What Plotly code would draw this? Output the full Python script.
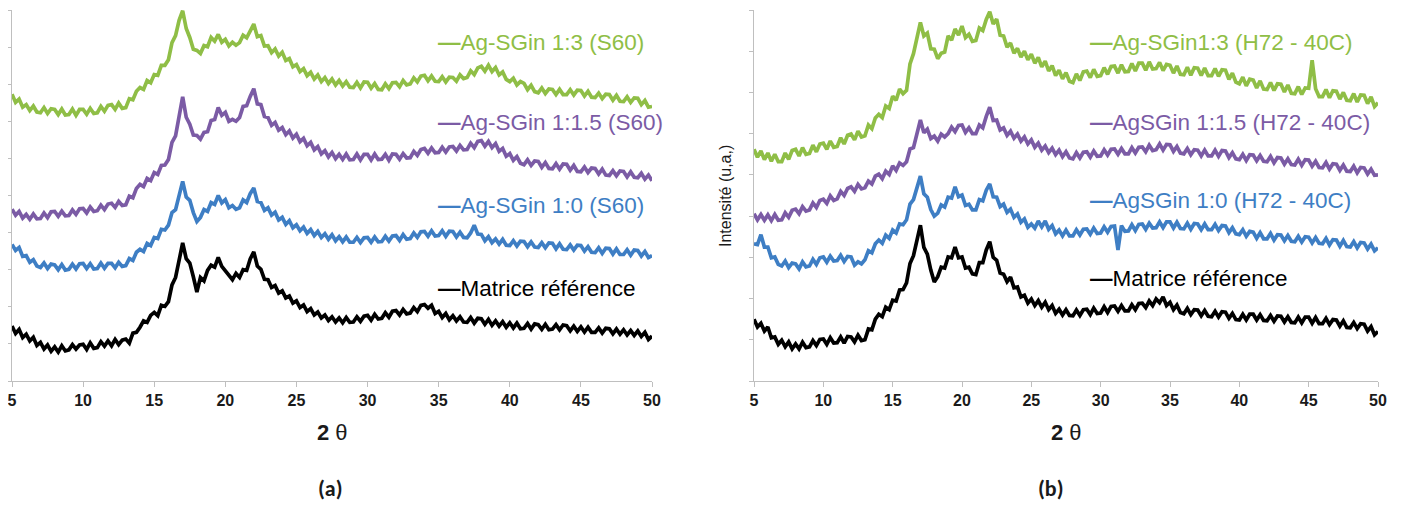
import plotly.graph_objects as go

# 2-theta sampling grid (degrees)
two_theta = [5 + 0.25 * i for i in range(181)]
x_ticks = [5, 10, 15, 20, 25, 30, 35, 40, 45, 50]
x_tick_labels = ["5", "10", "15", "20", "25", "30", "35", "40", "45", "50"]

# ---------------- Panel (a) : S60 (intensity, u.a.) ----------------
a_matrice = [
    148, 128, 139, 117, 126, 108, 118, 96, 104, 86, 97, 80, 92, 78, 95, 81,
    84, 98, 86, 97, 99, 85, 103, 88, 90, 106, 94, 108, 95, 112, 98, 110,
    113, 102, 129, 131, 145, 162, 158, 177, 185, 176, 204, 201, 214, 259, 279, 330,
    372, 330, 318, 281, 240, 279, 270, 298, 312, 307, 333, 309, 298, 286, 273, 290,
    279, 300, 298, 329, 348, 310, 301, 274, 273, 252, 257, 237, 243, 224, 229, 210,
    216, 198, 205, 187, 195, 178, 186, 170, 178, 163, 173, 159, 170, 157, 171, 158,
    159, 173, 161, 175, 177, 164, 180, 167, 169, 184, 172, 188, 190, 178, 193, 181,
    183, 198, 187, 204, 206, 196, 204, 182, 188, 171, 182, 165, 176, 162, 173, 159,
    158, 171, 156, 169, 168, 153, 166, 150, 162, 148, 160, 145, 157, 143, 156, 141,
    142, 155, 140, 154, 152, 139, 153, 138, 140, 152, 138, 151, 149, 135, 148, 134,
    146, 132, 145, 131, 131, 143, 129, 142, 141, 127, 140, 126, 138, 124, 136, 123,
    135, 120, 131, 112, 121]
a_ag_1_0 = [
    368, 352, 360, 336, 338, 320, 327, 310, 306, 318, 303, 315, 313, 300, 314, 299,
    301, 315, 302, 316, 317, 303, 316, 302, 303, 318, 304, 317, 317, 305, 320, 309,
    311, 330, 325, 347, 355, 349, 371, 365, 387, 384, 409, 407, 420, 454, 462, 504,
    538, 496, 487, 454, 430, 441, 462, 457, 481, 476, 500, 480, 489, 467, 473, 463,
    467, 488, 481, 505, 520, 484, 481, 460, 467, 447, 455, 434, 441, 422, 432, 413,
    421, 405, 415, 398, 408, 392, 403, 387, 397, 382, 394, 378, 389, 375, 388, 374,
    374, 387, 373, 386, 387, 374, 388, 375, 376, 390, 377, 391, 392, 379, 395, 382,
    384, 399, 387, 402, 403, 390, 405, 391, 392, 405, 390, 404, 403, 388, 401, 387,
    386, 399, 420, 396, 395, 378, 389, 373, 383, 369, 382, 366, 365, 378, 364, 377,
    376, 362, 375, 361, 360, 373, 359, 372, 371, 356, 370, 355, 354, 367, 353, 366,
    365, 350, 362, 347, 346, 359, 344, 358, 357, 342, 356, 341, 341, 354, 339, 353,
    352, 337, 349, 333, 338]
a_ag_1_1_5 = [
    463, 447, 457, 439, 449, 436, 450, 437, 438, 453, 440, 456, 457, 444, 458, 445,
    446, 461, 449, 464, 465, 453, 469, 457, 459, 474, 462, 477, 479, 468, 484, 473,
    475, 498, 494, 519, 530, 524, 546, 540, 562, 557, 581, 582, 597, 643, 661, 717,
    766, 711, 692, 663, 662, 652, 670, 672, 702, 705, 737, 716, 724, 700, 705, 700,
    710, 740, 742, 767, 788, 747, 745, 713, 710, 689, 697, 676, 683, 664, 674, 655,
    665, 645, 654, 634, 643, 623, 632, 612, 621, 604, 616, 599, 611, 597, 612, 596,
    597, 612, 596, 611, 611, 596, 612, 597, 598, 611, 595, 612, 611, 598, 613, 601,
    602, 619, 608, 624, 627, 614, 628, 615, 616, 630, 617, 631, 632, 620, 635, 623,
    624, 641, 629, 646, 648, 633, 646, 629, 640, 619, 627, 606, 613, 595, 605, 587,
    583, 596, 581, 593, 592, 576, 589, 573, 572, 586, 571, 585, 584, 568, 581, 565,
    564, 577, 562, 574, 573, 558, 571, 555, 554, 567, 553, 566, 565, 550, 564, 549,
    548, 560, 544, 555, 540]
a_ag_1_3 = [
    773, 751, 760, 738, 745, 729, 741, 725, 723, 737, 721, 734, 732, 718, 733, 717,
    718, 733, 716, 732, 732, 719, 735, 721, 723, 740, 727, 743, 745, 732, 749, 735,
    737, 761, 758, 781, 791, 786, 810, 804, 826, 824, 851, 851, 866, 912, 931, 972,
    998, 950, 926, 894, 891, 883, 904, 901, 926, 916, 934, 913, 921, 903, 913, 905,
    912, 932, 925, 946, 962, 928, 931, 903, 904, 885, 895, 876, 886, 864, 869, 847,
    853, 834, 842, 823, 832, 814, 825, 807, 818, 802, 814, 798, 810, 795, 807, 792,
    791, 805, 790, 806, 805, 789, 802, 786, 785, 801, 788, 804, 805, 793, 810, 798,
    801, 817, 806, 822, 824, 809, 822, 808, 807, 820, 806, 819, 818, 808, 825, 815,
    818, 836, 826, 844, 848, 835, 851, 834, 845, 825, 833, 813, 807, 816, 798, 807,
    802, 785, 797, 780, 777, 790, 775, 787, 786, 772, 786, 772, 772, 785, 771, 784,
    783, 768, 781, 765, 764, 776, 761, 773, 772, 757, 770, 754, 753, 766, 751, 763,
    762, 745, 756, 738, 740]

# ---------------- Panel (b) : H72 - 40C (intensity, u.a.) ----------------
b_matrice = [
    150, 131, 140, 121, 131, 105, 107, 89, 99, 83, 95, 78, 90, 78, 94, 81,
    83, 98, 86, 101, 102, 89, 105, 92, 93, 107, 92, 108, 107, 95, 111, 98,
    100, 126, 124, 150, 162, 156, 179, 173, 196, 194, 221, 222, 238, 285, 304, 344,
    378, 324, 308, 269, 240, 253, 276, 274, 301, 299, 325, 299, 301, 274, 276, 260,
    258, 287, 287, 318, 338, 300, 293, 262, 259, 241, 252, 226, 228, 204, 208, 189,
    199, 183, 195, 179, 191, 173, 183, 164, 174, 160, 173, 159, 158, 172, 159, 173,
    174, 161, 177, 164, 165, 180, 166, 181, 182, 169, 183, 170, 170, 185, 173, 188,
    189, 178, 194, 183, 199, 190, 204, 183, 191, 173, 184, 166, 163, 176, 161, 173,
    172, 158, 171, 157, 156, 169, 155, 168, 167, 152, 164, 149, 148, 162, 148, 162,
    162, 148, 161, 147, 146, 159, 145, 158, 157, 143, 156, 142, 141, 155, 141, 155,
    155, 140, 154, 139, 139, 152, 137, 149, 148, 133, 146, 130, 129, 142, 127, 139,
    138, 121, 132, 112, 120]
b_ag_1_0 = [
    333, 331, 355, 325, 325, 299, 301, 283, 279, 291, 275, 286, 284, 272, 289, 277,
    279, 295, 283, 299, 301, 288, 303, 291, 292, 305, 290, 302, 301, 281, 289, 284,
    294, 316, 311, 333, 342, 334, 354, 346, 366, 359, 381, 379, 391, 429, 440, 472,
    497, 454, 446, 416, 400, 407, 427, 422, 446, 444, 471, 447, 451, 426, 429, 415,
    415, 440, 437, 463, 478, 447, 446, 423, 429, 409, 417, 397, 405, 385, 393, 373,
    381, 371, 388, 374, 388, 368, 377, 357, 366, 352, 366, 352, 352, 367, 354, 368,
    369, 356, 371, 358, 359, 374, 361, 375, 376, 318, 377, 363, 364, 379, 365, 380,
    381, 368, 383, 371, 372, 386, 372, 386, 386, 371, 385, 370, 369, 383, 368, 382,
    381, 367, 381, 367, 367, 380, 365, 377, 376, 360, 372, 357, 355, 367, 351, 363,
    361, 346, 360, 345, 345, 358, 342, 355, 354, 340, 353, 339, 338, 351, 337, 350,
    349, 335, 348, 334, 333, 346, 330, 343, 342, 327, 341, 326, 325, 338, 323, 336,
    335, 320, 332, 316, 323]
b_ag_1_1_5 = [
    406, 391, 404, 390, 403, 389, 404, 390, 391, 408, 397, 414, 417, 406, 423, 412,
    415, 432, 421, 438, 441, 431, 449, 438, 442, 460, 450, 467, 471, 460, 477, 466,
    469, 485, 478, 497, 502, 491, 509, 501, 522, 511, 529, 523, 532, 563, 566, 600,
    633, 602, 611, 588, 594, 582, 599, 592, 600, 616, 605, 620, 621, 603, 614, 600,
    600, 621, 614, 642, 664, 632, 633, 609, 614, 596, 606, 589, 599, 582, 592, 575,
    585, 567, 577, 560, 570, 554, 565, 549, 560, 544, 556, 541, 539, 554, 541, 555,
    556, 543, 558, 545, 546, 561, 548, 562, 563, 550, 564, 551, 551, 566, 553, 567,
    568, 556, 572, 559, 561, 575, 560, 574, 573, 557, 569, 553, 551, 564, 549, 561,
    560, 546, 560, 546, 546, 560, 545, 559, 558, 542, 554, 539, 537, 550, 535, 549,
    548, 534, 547, 533, 532, 545, 529, 542, 541, 526, 539, 525, 524, 538, 523, 537,
    536, 521, 533, 518, 517, 530, 514, 527, 526, 511, 524, 509, 508, 521, 505, 518,
    517, 502, 514, 499, 500]
b_ag_1_3 = [
    562, 543, 558, 537, 553, 533, 550, 532, 532, 553, 538, 559, 562, 546, 566, 550,
    552, 572, 556, 575, 577, 562, 582, 567, 569, 590, 575, 596, 599, 585, 606, 592,
    595, 621, 612, 638, 647, 639, 667, 661, 691, 681, 708, 697, 705, 769, 794, 837,
    870, 837, 844, 806, 805, 782, 795, 798, 837, 827, 854, 839, 861, 833, 841, 824,
    826, 856, 850, 877, 896, 866, 878, 839, 837, 810, 820, 795, 807, 786, 800, 779,
    793, 771, 785, 762, 776, 752, 765, 741, 754, 733, 748, 727, 724, 745, 729, 750,
    752, 736, 756, 739, 741, 760, 744, 763, 764, 747, 767, 750, 751, 770, 752, 771,
    771, 754, 774, 757, 758, 773, 753, 768, 766, 747, 764, 744, 743, 761, 742, 760,
    759, 741, 759, 741, 741, 758, 739, 755, 754, 732, 747, 725, 721, 737, 716, 732,
    730, 711, 728, 708, 707, 724, 705, 721, 720, 701, 718, 698, 697, 714, 695, 711,
    710, 778, 709, 690, 690, 707, 687, 704, 703, 684, 700, 681, 680, 697, 677, 694,
    693, 673, 689, 666, 675]

GREEN = "#8FBE46"
PURPLE = "#7B5BA5"
BLUE = "#3E7EC4"
BLACK = "#000000"

series_a = [
    ("Matrice référence", a_matrice, BLACK),
    ("Ag-SGin 1:0 (S60)", a_ag_1_0, BLUE),
    ("Ag-SGin 1:1.5 (S60)", a_ag_1_1_5, PURPLE),
    ("Ag-SGin 1:3 (S60)", a_ag_1_3, GREEN),
]
series_b = [
    ("Matrice référence", b_matrice, BLACK),
    ("AgSGin 1:0 (H72 - 40C)", b_ag_1_0, BLUE),
    ("AgSGin 1:1.5 (H72 - 40C)", b_ag_1_1_5, PURPLE),
    ("Ag-SGin1:3 (H72 - 40C)", b_ag_1_3, GREEN),
]

# The page body keeps an 8 px margin, so the figure is drawn 8 px in from the
# window's top-left corner; size it to fill the remaining 1401x509 window.
OFF = 8
W, H = 1401 - 2 * OFF, 509 - 2 * OFF


def px(x):
    return (x - OFF) / W


def py(y):
    return 1 - (y - OFF) / H


LW = 3.7
fig = go.Figure()
for name, vals, color in series_a:
    fig.add_trace(go.Scatter(x=two_theta[:len(vals)], y=vals, mode="lines", name=name,
                             line=dict(color=color, width=LW), xaxis="x", yaxis="y",
                             showlegend=False))
for name, vals, color in series_b:
    fig.add_trace(go.Scatter(x=two_theta[:len(vals)], y=vals, mode="lines", name=name,
                             line=dict(color=color, width=LW), xaxis="x2", yaxis="y2",
                             showlegend=False))

AXC = "#BFBFBF"
tickfont = dict(family="Liberation Sans Narrow, Liberation Sans, Arial", size=16,
                color="#1a1a1a", weight="bold")


def xaxis(domain, anchor):
    return dict(domain=domain, range=[5, 50], tickvals=x_ticks, ticktext=x_tick_labels,
                ticks="outside", ticklen=5, tickcolor=AXC, showline=True, linecolor=AXC,
                linewidth=1, showgrid=False, zeroline=False, tickfont=tickfont,
                ticklabeloverflow="allow",
                anchor=anchor, fixedrange=True, automargin=False)


def yaxis(rng, anchor):
    return dict(domain=[py(381), py(10)], range=rng, tick0=0, dtick=100,
                ticks="outside", ticklen=4, tickcolor=AXC, showticklabels=False,
                showline=True, linecolor=AXC, linewidth=1, showgrid=False,
                zeroline=False, anchor=anchor, fixedrange=True, automargin=False)


fig.update_layout(
    width=W, height=H,
    margin=dict(l=0, r=0, t=0, b=0, autoexpand=False),
    paper_bgcolor="white", plot_bgcolor="white",
    xaxis=xaxis([px(12), px(652)], "y"),
    yaxis=yaxis([0, 1000], "x"),
    xaxis2=xaxis([px(754), px(1378)], "y2"),
    yaxis2=yaxis([0, 900], "x2"),
)

legend_font = "Liberation Sans, Arial"
ann = []
# legend-like labels
for text, color, x, y in [
    ("Ag-SGin 1:3 (S60)", GREEN, 436, 42),
    ("Ag-SGin 1:1.5 (S60)", PURPLE, 436, 123),
    ("Ag-SGin 1:0 (S60)", BLUE, 436, 205),
    ("Matrice référence", BLACK, 436, 288),
    ("Ag-SGin1:3 (H72 - 40C)", GREEN, 1088, 42),
    ("AgSGin 1:1.5 (H72 - 40C)", PURPLE, 1088, 122),
    ("AgSGin 1:0 (H72 - 40C)", BLUE, 1088, 200),
    ("Matrice référence", BLACK, 1088, 278),
]:
    ann.append(dict(text="<b>—</b>" + text, x=px(x), y=py(y), xref="paper", yref="paper",
                    xanchor="left", yanchor="middle", showarrow=False,
                    font=dict(family=legend_font, size=22.5, color=color)))

# axis titles
for cx in [(12 + 652) / 2, (754 + 1378) / 2]:
    ann.append(dict(text="<b>2</b> θ", x=px(cx), y=py(432), xref="paper", yref="paper",
                    xanchor="center", yanchor="middle", showarrow=False,
                    font=dict(family="Liberation Sans, Arial", size=22, color="#1a1a1a")))
ann.append(dict(text="Intensité (u,a,)", x=px(726), y=py(196), xref="paper", yref="paper",
                xanchor="center", yanchor="middle", showarrow=False, textangle=-90,
                font=dict(family="Liberation Sans, Arial", size=16, color="#1a1a1a")))
# panel labels
for text, cx in [("(a)", 330), ("(b)", 1051)]:
    ann.append(dict(text=text, x=px(cx), y=py(488), xref="paper", yref="paper",
                    xanchor="center", yanchor="middle", showarrow=False,
                    font=dict(family="Carlito, Lato, Liberation Sans", size=22,
                              color="#1a1a1a", weight="bold")))
fig.update_layout(annotations=ann)

fig.write_html("out.html")
